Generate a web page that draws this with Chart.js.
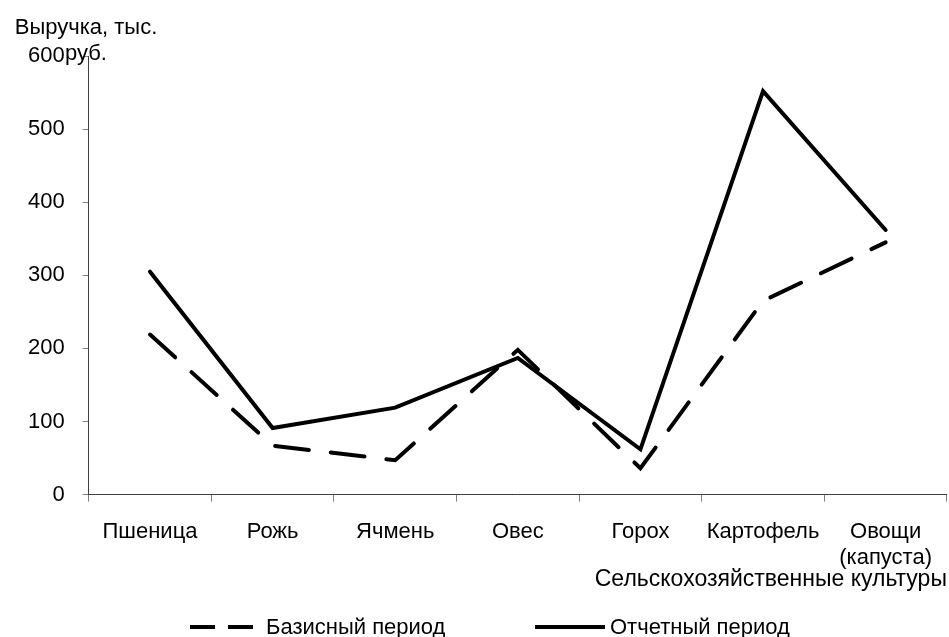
<!DOCTYPE html>
<html>
<head>
<meta charset="utf-8">
<script src="https://cdn.jsdelivr.net/npm/chart.js@4/dist/chart.umd.min.js"></script>
<style>
  html, body { margin: 0; padding: 0; background: #fff; }
  #wrap { width: 949px; height: 637px; }
</style>
</head>
<body>
<div id="wrap"><canvas id="c"></canvas></div>
<script>
const categories = ['Пшеница', 'Рожь', 'Ячмень', 'Овес', 'Горох', 'Картофель', ['Овощи', '(капуста)']];
const baseValues = [219, 67, 47, 198, 36, 265, 345];
const reportValues = [305, 91, 119, 187, 62, 552, 362];
const seriesNames = ['Базисный период', 'Отчетный период'];
const yTitleLines = ['Выручка, тыс.', 'руб.'];
const xTitle = 'Сельскохозяйственные культуры';
const yMin = 0, yMax = 600, yStep = 100;

const FONT = 'Liberation Sans, Arial, sans-serif';
const FS = 22;

const yTitlePlugin = {
  id: 'yTitle',
  afterDraw(chart) {
    const ctx = chart.ctx;
    const top = chart.scales.y.top;
    ctx.save();
    ctx.font = FS + 'px ' + FONT;
    ctx.fillStyle = '#000';
    ctx.textAlign = 'center';
    ctx.textBaseline = 'alphabetic';
    ctx.fillText(yTitleLines[0], 86, top - 22);
    ctx.fillText(yTitleLines[1], 86, top + 4);
    ctx.restore();
  }
};

const legendPlugin = {
  id: 'customLegend',
  afterDraw(chart) {
    const ctx = chart.ctx;
    const items = [
      { x0: 190, x1: 255, gap: 11, dash: [25, 13] },
      { x0: 535, x1: 605, gap: 5, dash: [] }
    ];
    const y = 627;
    ctx.save();
    ctx.font = FS + 'px ' + FONT;
    ctx.textBaseline = 'middle';
    ctx.textAlign = 'left';
    chart.data.datasets.forEach((ds, i) => {
      const it = items[i];
      ctx.beginPath();
      ctx.strokeStyle = ds.borderColor;
      ctx.lineWidth = ds.borderWidth;
      ctx.lineCap = 'butt';
      ctx.setLineDash(it.dash);
      ctx.moveTo(it.x0, y);
      ctx.lineTo(it.x1, y);
      ctx.stroke();
      ctx.setLineDash([]);
      ctx.fillStyle = '#000';
      ctx.fillText(ds.label, it.x1 + it.gap, y + 1);
    });
    ctx.restore();
  }
};

new Chart(document.getElementById('c'), {
  type: 'line',
  data: {
    labels: categories,
    datasets: [
      {
        label: seriesNames[0],
        data: baseValues,
        borderColor: '#000',
        borderWidth: 4,
        borderDash: [34, 22],
        borderCapStyle: 'round',
        borderJoinStyle: 'miter',
        pointRadius: 0,
        tension: 0,
        fill: false
      },
      {
        label: seriesNames[1],
        data: reportValues,
        borderColor: '#000',
        borderWidth: 4,
        borderCapStyle: 'round',
        borderJoinStyle: 'miter',
        pointRadius: 0,
        tension: 0,
        fill: false
      }
    ]
  },
  options: {
    responsive: true,
    maintainAspectRatio: false,
    animation: false,
    devicePixelRatio: 1,
    layout: { padding: { top: 56, left: 10, right: 0, bottom: 33 } },
    plugins: {
      legend: { display: false },
      title: { display: false },
      tooltip: { enabled: false }
    },
    scales: {
      x: {
        type: 'category',
        offset: true,
        grid: { offset: true, drawOnChartArea: false, drawTicks: true, tickLength: 7, color: '#808080' },
        border: { color: '#404040', width: 1 },
        ticks: { color: '#000', font: { family: FONT, size: FS }, padding: 17, maxRotation: 0, autoSkip: false },
        title: { display: true, text: xTitle, align: 'end', color: '#000', font: { family: FONT, size: 23 }, padding: { top: -23, bottom: 11 } }
      },
      y: {
        min: yMin,
        max: yMax,
        grid: { drawOnChartArea: false, drawTicks: true, tickLength: 6, color: '#808080' },
        border: { color: '#404040', width: 1 },
        ticks: { stepSize: yStep, color: '#000', font: { family: FONT, size: FS }, padding: 18 }
      }
    }
  },
  plugins: [yTitlePlugin, legendPlugin]
});
</script>
</body>
</html>
